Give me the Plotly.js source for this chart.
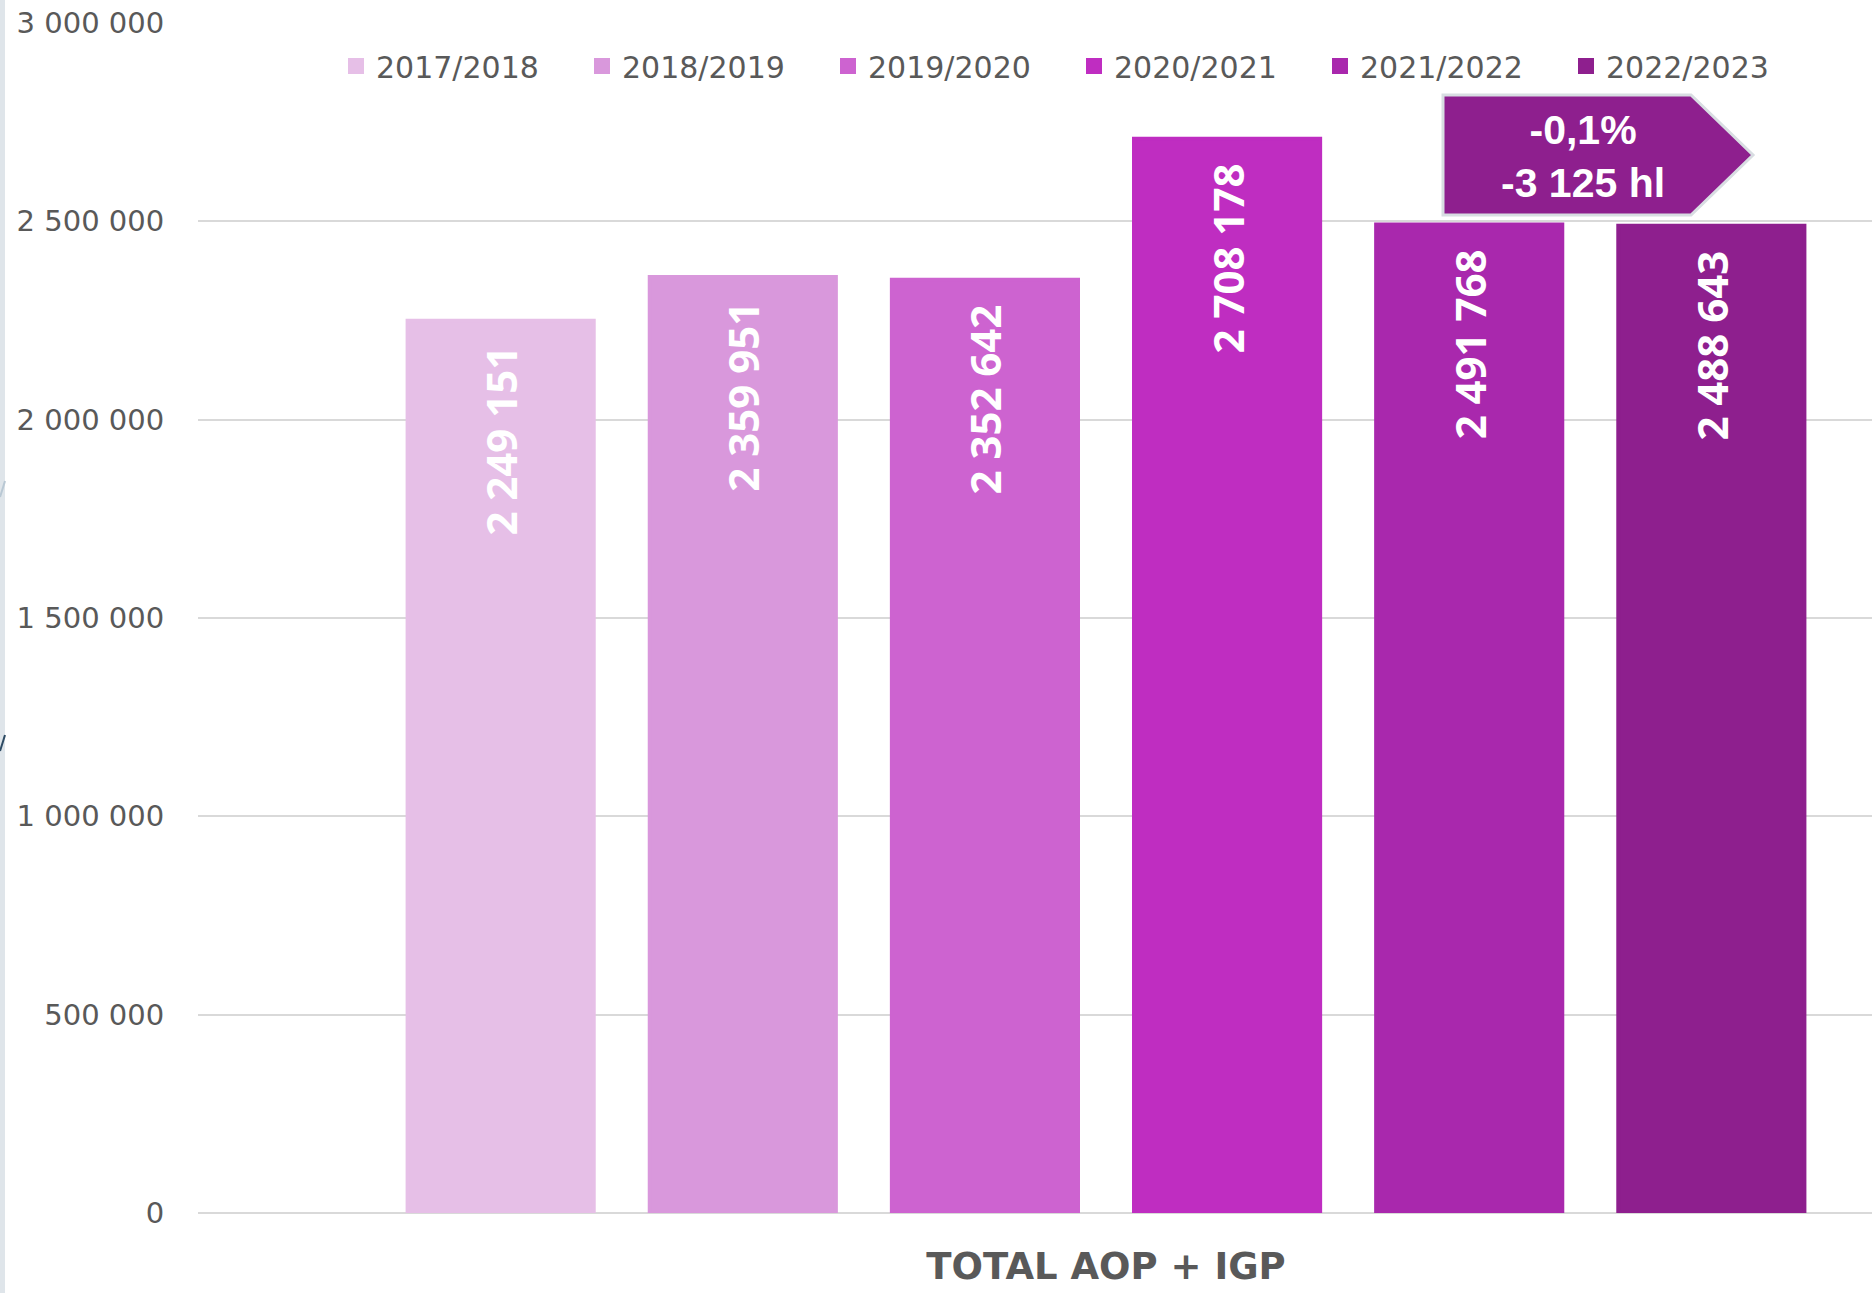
<!DOCTYPE html>
<html>
<head>
<meta charset="utf-8">
<script src="https://cdn.plot.ly/plotly-3.0.1.min.js"></script>
<style>
  html, body { margin: 0; padding: 0; background: #ffffff; }
  #chart { width: 1872px; height: 1293px; }
</style>
</head>
<body>
<div id="chart"></div>
<script>
// ---- data ----
const category = 'TOTAL AOP + IGP';
const seasons = ['2017/2018', '2018/2019', '2019/2020', '2020/2021', '2021/2022', '2022/2023'];
const volumes = [2249151, 2359951, 2352642, 2708178, 2491768, 2488643];
const seasonColors = ['#E6BFE7', '#D998DC', '#CD63D0', '#BF2DC1', '#A928AD', '#8E1F8E'];
const changeLines = ['-0,1%', '-3 125 hl'];
const yTickStep = 500000;
const yMax = 3000000;

// ---- styles ----
const greyText = '#595959';
const pad = '\u00A0\u00A0';

const traces = seasons.map((s, i) => ({
  type: 'bar',
  name: s,
  x: [category],
  y: [volumes[i]],
  marker: { color: seasonColors[i], line: { color: seasonColors[i], width: 4 } },
  texttemplate: '%{y:,}' + pad,
  textposition: 'inside',
  insidetextanchor: 'end',
  textangle: -90,
  insidetextfont: { family: 'Open Sans, sans-serif', size: 42, color: '#ffffff', weight: 'bold' },
  hoverinfo: 'skip'
}));

const W = 1872, H = 1293;
const mL = 198, mR = 0, mT = 23, mB = 80;
const pw = W - mL - mR, ph = H - mT - mB;
const px = v => (v - mL) / pw;
const py = v => (H - mB - v) / ph;

const ax0 = px(1443), ax1 = px(1691), axTip = px(1753);
const ayT = py(95), ayB = py(215), ayM = py(155);

const layout = {
  width: W, height: H,
  margin: { l: mL, r: mR, t: mT, b: mB, pad: 0 },
  paper_bgcolor: '#ffffff',
  plot_bgcolor: '#ffffff',
  separators: ', ',
  barmode: 'group',
  bargap: 0.2,
  bargroupgap: 0.2313,
  showlegend: true,
  legend: {
    orientation: 'h',
    x: px(336), xanchor: 'left',
    y: py(66), yanchor: 'middle',
    font: { family: 'DejaVu Sans, sans-serif', size: 30, color: greyText },
    entrywidth: 201,
    entrywidthmode: 'pixels',
    bgcolor: 'rgba(0,0,0,0)',
    traceorder: 'normal'
  },
  xaxis: {
    type: 'category',
    range: [-0.5, 0.4218],
    showgrid: false, zeroline: false, showline: false,
    ticks: 'outside', ticklen: 21, tickcolor: 'rgba(0,0,0,0)',
    tickfont: { family: 'DejaVu Sans, sans-serif', size: 37, color: greyText, weight: 'bold' },
    fixedrange: true
  },
  yaxis: {
    range: [0, yMax],
    dtick: yTickStep, tick0: 0,
    tickformat: ',',
    showgrid: true, gridcolor: '#d9d9d9', gridwidth: 2,
    zeroline: true, zerolinecolor: '#d9d9d9', zerolinewidth: 2,
    showline: false,
    ticks: 'outside', ticklen: 27, tickcolor: 'rgba(0,0,0,0)',
    tickfont: { family: 'DejaVu Sans, sans-serif', size: 29, color: greyText },
    fixedrange: true
  },
  shapes: [
    { type: 'rect', xref: 'paper', yref: 'paper', x0: px(0), x1: px(5), y0: py(H), y1: py(0),
      fillcolor: '#dfe5ea', line: { width: 0 }, layer: 'below' },
    { type: 'line', xref: 'paper', yref: 'paper', x0: px(0), y0: py(497), x1: px(5), y1: py(481),
      line: { color: '#b9c8d4', width: 2 } },
    { type: 'line', xref: 'paper', yref: 'paper', x0: px(0), y0: py(751), x1: px(5), y1: py(735),
      line: { color: '#2e4b64', width: 2 } },
    { type: 'path', xref: 'paper', yref: 'paper',
      path: `M${ax0},${ayB} L${ax0},${ayT} L${ax1},${ayT} L${axTip},${ayM} L${ax1},${ayB} Z`,
      fillcolor: '#8E1F8E', line: { color: '#d8dde2', width: 3 }, layer: 'above' }
  ],
  annotations: [
    { xref: 'paper', yref: 'paper', x: px(1583), y: py(156), xanchor: 'center', yanchor: 'middle',
      text: changeLines.join('<br>'), showarrow: false, align: 'center',
      font: { family: 'Liberation Sans, Arial, sans-serif', size: 41, color: '#ffffff', weight: 'bold' } }
  ]
};

Plotly.newPlot('chart', traces, layout, { staticPlot: true, displayModeBar: false });
</script>
</body>
</html>
